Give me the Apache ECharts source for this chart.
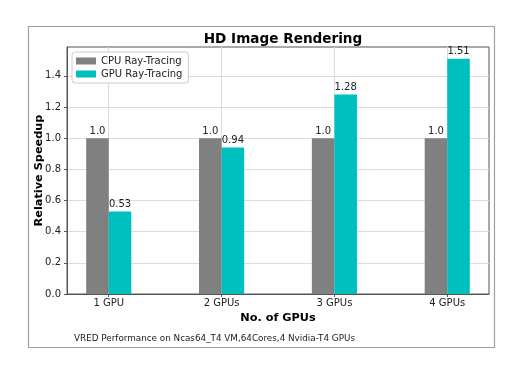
<!DOCTYPE html>
<html>
<head>
<meta charset="utf-8">
<script src="https://cdn.jsdelivr.net/npm/echarts@6/dist/echarts.min.js"></script>
<style>html,body{margin:0;padding:0;background:#fff;}#c{width:532px;height:382px;}</style>
</head>
<body>
<div id="c"></div>
<script>
const categories = ['1 GPU', '2 GPUs', '3 GPUs', '4 GPUs'];
const cpuValues = [1.0, 1.0, 1.0, 1.0];
const gpuValues = [0.53, 0.94, 1.28, 1.51];
const yTicks = [0, 0.2, 0.4, 0.6, 0.8, 1.0, 1.2, 1.4];
const seriesNames = ['CPU Ray-Tracing', 'GPU Ray-Tracing'];

const FONT = 'DejaVu Sans';
const chart = echarts.init(document.getElementById('c'), null, {renderer: 'canvas'});
const idx = categories.map((_, i) => i);
const lbl = v => Number.isInteger(v) ? v.toFixed(1) : String(v);

chart.setOption({
  animation: false,
  textStyle: {fontFamily: FONT},
  graphic: [{
    type: 'rect', z: -10, silent: true,
    shape: {x: 28.5, y: 26.5, width: 466, height: 321},
    style: {fill: 'none', stroke: '#a0a0a0', lineWidth: 1.2}
  }],
  title: [{
    text: 'HD Image Rendering', left: 278, top: 27, textAlign: 'center',
    textStyle: {fontFamily: FONT, fontWeight: 'bold', fontSize: 13.6, color: '#000'}
  }, {
    text: 'VRED Performance on Ncas64_T4 VM,64Cores,4 Nvidia-T4 GPUs', left: 69, top: 329,
    textStyle: {fontFamily: FONT, fontWeight: 'normal', fontSize: 8.8, color: '#222'}
  }],
  legend: {
    data: seriesNames, orient: 'vertical', left: 72, top: 52,
    itemWidth: 20, itemHeight: 7, itemGap: 3, icon: 'rect',
    textStyle: {fontFamily: FONT, fontSize: 10, color: '#222'},
    borderColor: '#cccccc', borderWidth: 1, borderRadius: 3,
    padding: [4, 6, 4, 4], backgroundColor: '#fff'
  },
  grid: {left: 67, right: 43, top: 47, bottom: 88, show: true, borderColor: '#555', borderWidth: 1, containLabel: false},
  xAxis: {
    type: 'value', min: -0.37, max: 3.37,
    name: 'No. of GPUs', nameLocation: 'middle', nameGap: 19, nameMoveOverlap: false,
    nameTextStyle: {fontFamily: FONT, fontWeight: 'bold', fontSize: 11.3, color: '#000'},
    axisLine: {onZero: false, lineStyle: {color: '#555'}},
    axisTick: {show: true, length: 3, customValues: idx, lineStyle: {color: '#555'}},
    axisLabel: {customValues: idx, fontSize: 10, color: '#222', margin: 4,
      formatter: v => { const i = Math.round(v); return Math.abs(v - i) < 1e-6 && categories[i] ? categories[i] : ''; }},
    splitLine: {show: true, lineStyle: {color: '#dcdcdc', width: 1}}
  },
  yAxis: {
    type: 'value', min: 0, max: 1.5855, interval: 0.2,
    name: 'Relative Speedup', nameLocation: 'middle', nameGap: 22, nameMoveOverlap: false,
    nameTextStyle: {fontFamily: FONT, fontWeight: 'bold', fontSize: 11.3, color: '#000'},
    axisLine: {show: true, onZero: false, lineStyle: {color: '#555'}},
    axisTick: {show: true, length: 3, customValues: yTicks, lineStyle: {color: '#555'}},
    axisLabel: {customValues: yTicks, fontSize: 10, color: '#222', margin: 6,
      formatter: v => yTicks.some(t => Math.abs(t - v) < 1e-6) ? v.toFixed(1) : ''},
    splitLine: {show: true, lineStyle: {color: '#dcdcdc', width: 1}}
  },
  series: [{
    name: seriesNames[0], type: 'bar', barWidth: '20%', barGap: '0%',
    itemStyle: {color: '#808080'},
    label: {show: true, position: 'top', distance: 2, fontSize: 10, color: '#222', formatter: p => lbl(p.value[1])},
    data: cpuValues.map((v, i) => [i, v])
  }, {
    name: seriesNames[1], type: 'bar', barWidth: '20%', barGap: '0%',
    itemStyle: {color: '#00bfbf'},
    label: {show: true, position: 'top', distance: 2, fontSize: 10, color: '#222', formatter: p => lbl(p.value[1])},
    data: gpuValues.map((v, i) => [i, v])
  }]
});
</script>
</body>
</html>
